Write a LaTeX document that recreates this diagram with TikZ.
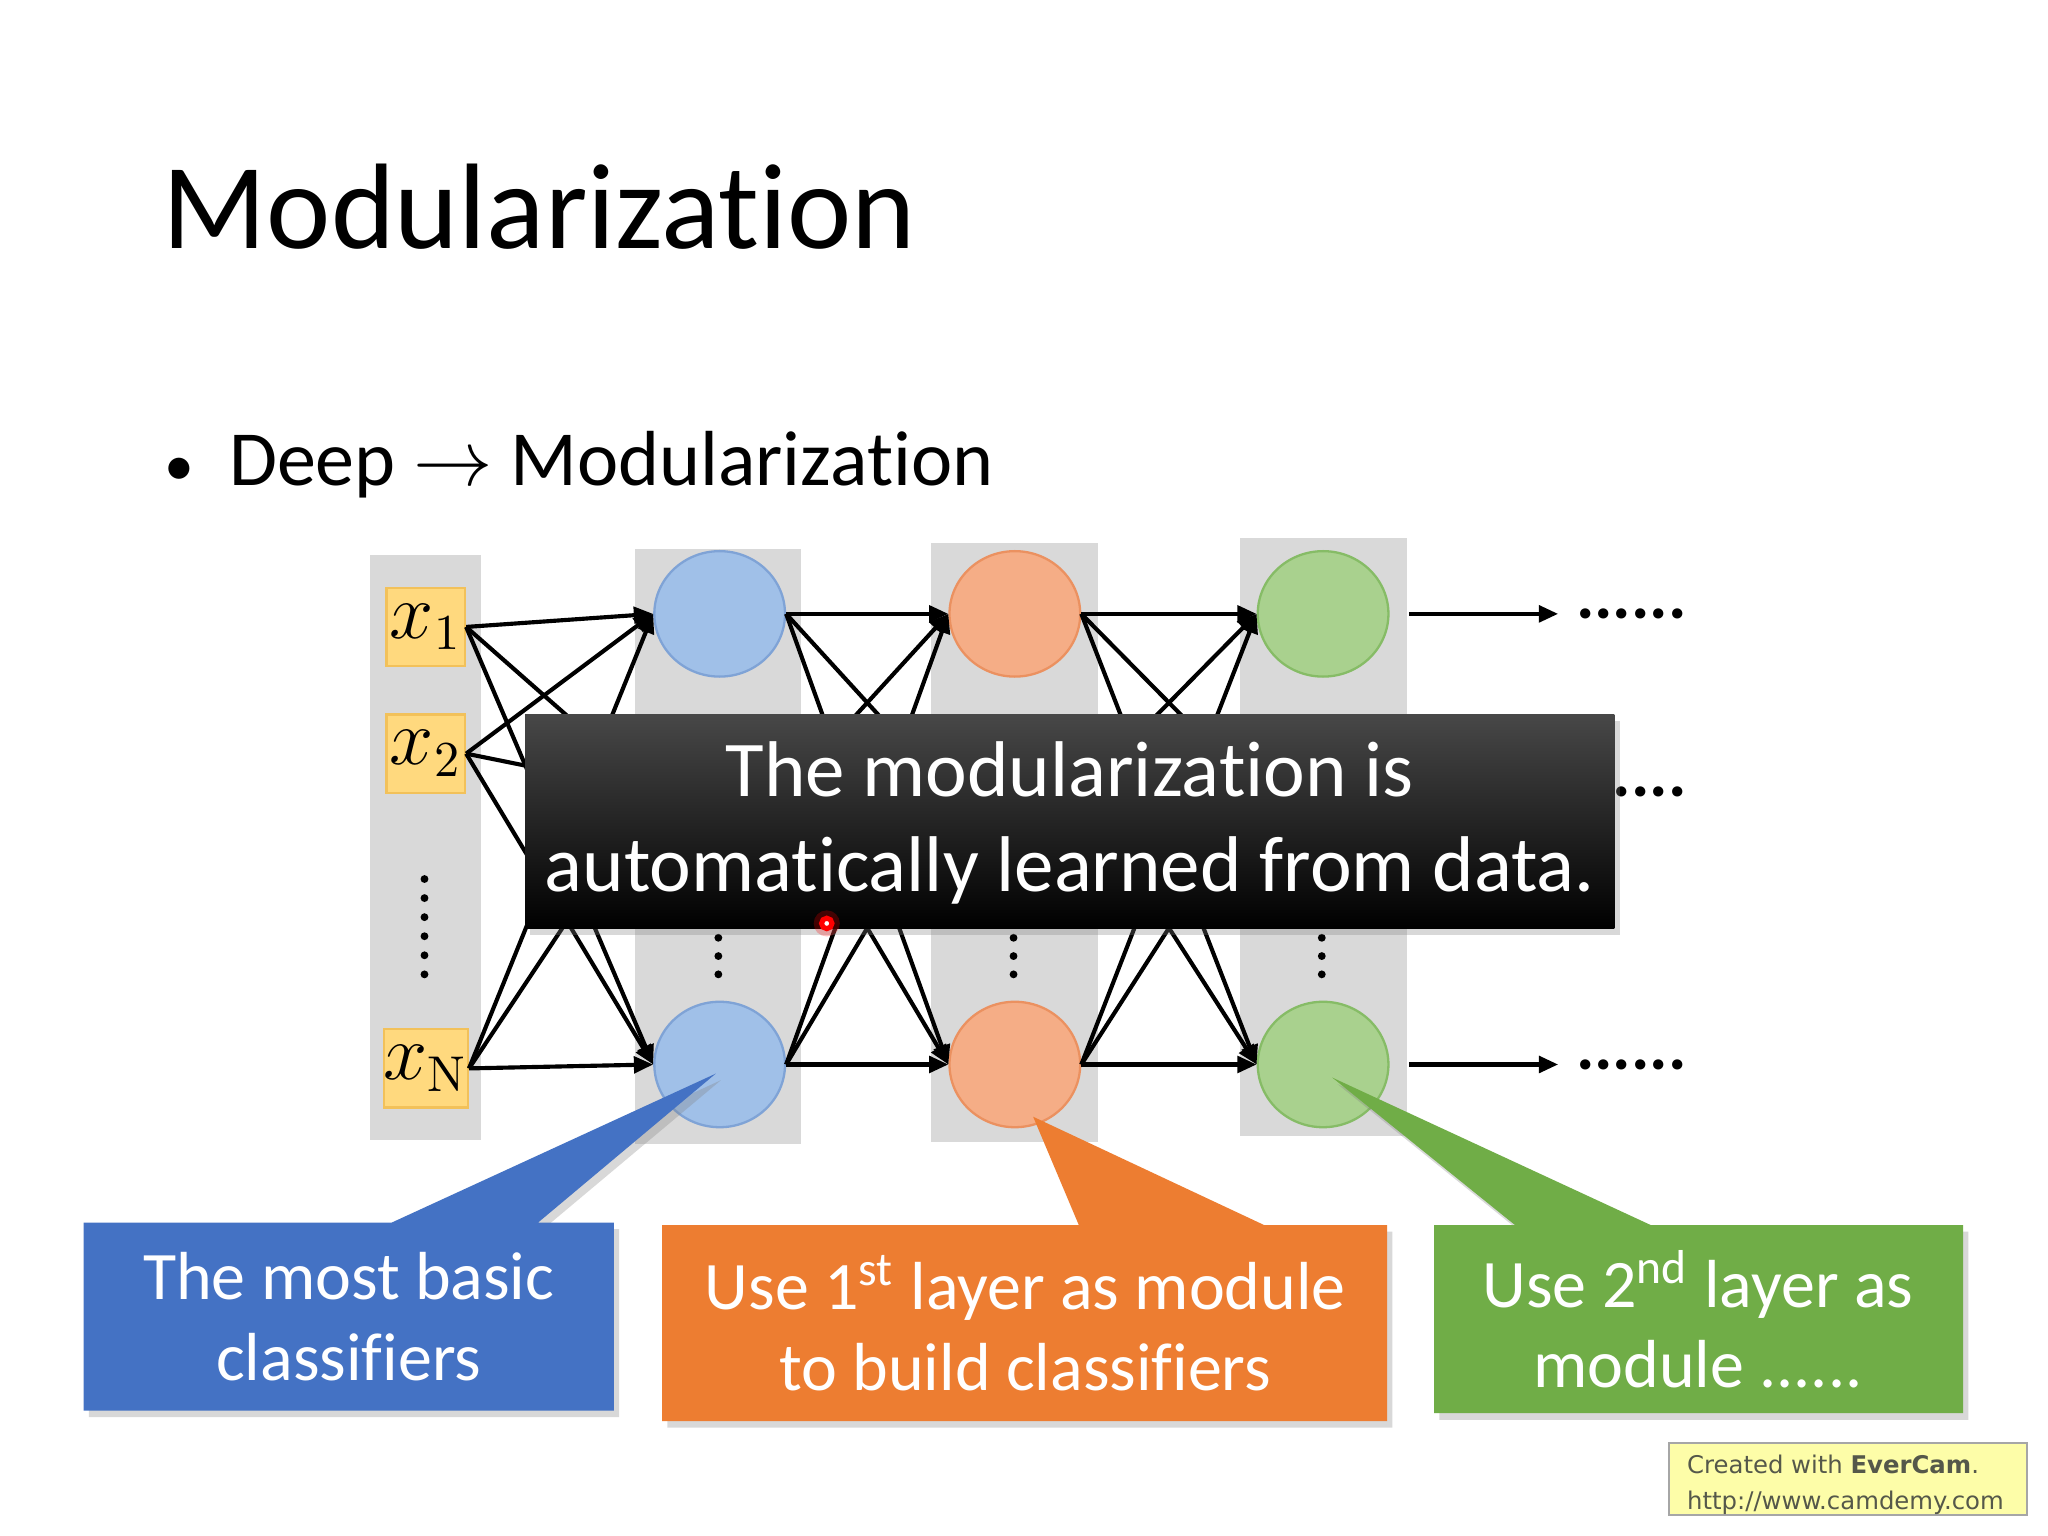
\documentclass[tikz,border=0pt]{standalone}
\usepackage[no-math]{fontspec}
\setmainfont{Carlito}[Ligatures=NoCommon]
\newfontfamily\wmfont{DejaVu Sans}
\usetikzlibrary{arrows.meta,shapes.geometric,shadows,calc,positioning}
\definecolor{colgray}{HTML}{D9D9D9}
\definecolor{infill}{HTML}{FFD97E}
\definecolor{inedge}{HTML}{F2C15A}
\definecolor{nfill1}{HTML}{A0C0E8}
\definecolor{nedge1}{HTML}{7FA3D6}
\definecolor{nfill2}{HTML}{F5AD86}
\definecolor{nedge2}{HTML}{EB9160}
\definecolor{nfill3}{HTML}{A9D18E}
\definecolor{nedge3}{HTML}{86BC66}
\definecolor{callblue}{HTML}{4472C4}
\definecolor{callorange}{HTML}{ED7D31}
\definecolor{callgreen}{HTML}{70AD47}
\definecolor{wmfill}{HTML}{FDFDA8}
\definecolor{wmtext}{HTML}{55584A}
\tikzset{
  column/.style={fill=colgray, draw=none},
  inbox/.style={draw=inedge, fill=infill, line width=0.5pt, minimum size=0.6cm, inner sep=0pt,
    font=\fontsize{16}{16}\selectfont},
  neuron/.style={ellipse, minimum width=1.0cm, minimum height=0.96cm, inner sep=0pt, line width=0.5pt},
  link/.style={-{Triangle[length=4.2pt,width=3.6pt]}, line width=0.9pt},
  moredots/.style={inner sep=0pt, font=\fontsize{15}{15}\selectfont\bfseries},
  callout/.style={drop shadow={opacity=0.3, shadow xshift=0.04cm, shadow yshift=-0.05cm}},
  calltext/.style={text=white, align=center, font=\fontsize{14.8}{17.6}\selectfont},
}

\begin{document}
\begin{tikzpicture}[x=0.01cm, y=-0.01cm]
  \useasboundingbox (0,0) rectangle (1568,1176);
  \fill[white] (0,0) rectangle (1568,1176);

  % heading
  \node[anchor=base west, inner sep=0pt, font=\fontsize{26.5}{30}\selectfont] (title) at (124,190) {Modularization};
  \node[anchor=base west, inner sep=0pt, font=\fontsize{17}{20}\selectfont] (point) at (125,372)
    {{\fontsize{13}{13}\selectfont •}\kern0.45em Deep $\rightarrow$ Modularization};

  % layer columns
  \fill[column] (283,425) rectangle (368,873);
  \fill[column] (486,420) rectangle (613,876);
  \fill[column] (713,416) rectangle (841,874);
  \fill[column] (949,412) rectangle (1077,870);

  % inputs
  \foreach \name/\y/\lab in {i1/480/x_1, i2/577/x_2, iN/818/x_{\mathrm{N}}}
    \node[inbox] (\name) at (326,\y) {$\lab$};
  \foreach \k in {0,...,5}
    \fill (325,{673+14.6*\k}) circle (0.03cm);

  % neurons, middle row lies under the note
  \foreach \l/\x in {1/551, 2/777, 3/1013} {
    \node[neuron, fill=nfill\l, draw=nedge\l] (n\l t) at (\x,470) {};
    \node[neuron] (n\l m) at (\x,606) {};
    \node[neuron, fill=nfill\l, draw=nedge\l] (n\l b) at (\x,815) {};
    \foreach \k in {0,1,2}
      \fill ({\x-1},{718+14*\k}) circle (0.03cm);
  }

  % connections
  \foreach \s in {i1,i2,iN}
    \foreach \r in {t,m,b}
      \draw[link] (\s.east) -- (n1\r.west);
  \foreach \a/\b in {1/2, 2/3}
    \foreach \s in {t,m,b}
      \foreach \r in {t,m,b}
        \draw[link] (n\a\s.east) -- (n\b\r.west);
  \foreach \r in {t,m,b} {
    \node[moredots, right=1.42cm of n3\r] (o\r) {......};
    \draw[link, shorten >=0.13cm] ($(n3\r.east)+(15,0)$) -- (o\r.west);
  }

  % callouts
  \fill[callblue, callout] (64,936) -- (300,936) -- ($(n1b)+(-3,7)$) -- (412,936)
    -- (470,936) -- (470,1080) -- (64,1080) -- cycle;
  \fill[callorange, callout] (507,938) -- (826,938) -- ($(n2b)+(14,40)$) -- (968,938)
    -- (1062,938) -- (1062,1088) -- (507,1088) -- cycle;
  \fill[callgreen, callout] (1098,938) -- (1160,938) -- ($(n3b)+(7,10)$) -- (1264,938)
    -- (1503,938) -- (1503,1082) -- (1098,1082) -- cycle;
  \node[calltext] (basic) at (267,1008) {The most basic\\classifiers};
  \node[calltext] (first) at (785,1013) {Use 1\textsuperscript{st} layer as module\\to build classifiers};
  \node[calltext] (second) at (1300,1010) {Use 2\textsuperscript{nd} layer as\\module ......};

  % subtitle note
  \shade[top color=black!72, middle color=black, bottom color=black, callout] (402,547) rectangle (1236,711);
  \node[text=white, align=center, font=\fontsize{17.2}{20.8}\selectfont] (note) at (819,630)
    {The modularization is\\automatically learned from data.};
  \fill[red, opacity=0.25] (633,707) circle (0.1cm);
  \draw[red, line width=1.1pt, fill=white] (633,707) circle (0.04cm);

  % watermark
  \draw[gray!70, fill=wmfill, line width=0.5pt] (1278,1105) rectangle (1552,1160);
  \node[anchor=north west, align=left, inner sep=0pt, text=wmtext, font=\wmfont\fontsize{5.3}{8}\selectfont] (mark) at (1291,1113)
    {Created with \textbf{EverCam}.\\http://www.camdemy.com};
\end{tikzpicture}
\end{document}
